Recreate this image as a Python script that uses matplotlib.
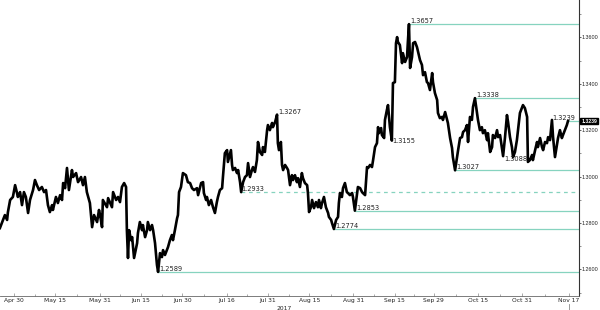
import matplotlib
matplotlib.use("Agg")
import matplotlib.pyplot as plt
import matplotlib.transforms as mtransforms
import numpy as np

# ---- data (days since Apr 30 2017, price) ----
days = [-5.1, -4.0, -3.3, -2.5, -2.2, -1.4, -0.4, 0.4, 1.1, 1.4, 2.2, 2.9, 3.6, 4.3, 5.1, 5.8, 6.9, 7.6, 8.3, 9.1,
        10.1, 10.9, 11.6, 12.3, 13.0, 13.8, 14.1, 15.2, 15.9, 16.7, 17.4, 17.8, 18.5, 19.2, 19.9, 21.0, 21.4, 22.5, 23.2, 24.3,
        25.0, 25.7, 26.4, 27.5, 28.3, 29.0, 30.1, 30.8, 31.2, 31.9, 32.2, 33.7, 34.1, 35.5, 35.9, 37.0, 37.7, 38.4, 39.1, 39.9,
        40.6, 40.9, 41.3, 41.7, 42.4, 42.8, 43.5, 44.6, 44.9, 45.6, 46.4, 46.7, 47.5, 48.2, 48.5, 49.3, 50.0, 50.4, 51.1, 51.8,
        52.2, 52.9, 53.6, 54.0, 54.7, 55.8, 56.5, 57.2, 57.6, 58.3, 59.1, 59.4, 59.8, 60.5, 61.2, 62.3, 63.0, 63.8, 64.5, 65.2,
        66.3, 66.7, 67.8, 68.5, 68.8, 69.6, 69.9, 70.6, 71.4, 72.1, 72.8, 73.5, 73.9, 74.6, 75.4, 75.7, 76.4, 77.2, 77.5, 78.6,
        79.0, 79.3, 80.1, 80.8, 81.2, 81.9, 82.3, 83.0, 83.7, 84.4, 84.8, 85.5, 86.2, 86.6, 87.3, 88.0, 88.4, 89.1, 89.9, 90.2,
        90.9, 91.7, 92.0, 92.7, 93.5, 93.8, 94.6, 95.3, 95.6, 96.0, 96.7, 97.1, 97.5, 98.2, 98.9, 99.3, 100.0, 100.7, 101.1, 101.8,
        102.5, 102.9, 103.6, 104.3, 104.7, 105.4, 106.2, 106.5, 106.9, 107.6, 108.0, 108.7, 109.4, 110.1, 110.5, 111.2, 111.6, 112.3, 113.0, 113.8,
        114.1, 114.9, 115.2, 115.9, 116.7, 117.4, 117.7, 118.1, 118.8, 119.2, 119.9, 120.6, 121.0, 121.7, 122.5, 122.8, 123.5, 124.3, 124.6, 125.4,
        126.1, 126.4, 127.2, 127.9, 128.3, 129.0, 129.7, 130.1, 130.8, 131.5, 131.9, 132.2, 133.0, 133.3, 134.1, 134.4, 135.1, 135.5, 136.2, 136.9,
        137.3, 138.0, 138.4, 138.8, 139.1, 139.8, 140.6, 140.9, 141.7, 142.4, 142.7, 143.1, 143.5, 144.2, 144.6, 145.3, 146.0, 146.4, 147.1, 147.8,
        148.2, 148.9, 149.6, 150.0, 150.7, 151.5, 151.8, 152.5, 153.3, 153.6, 154.3, 155.1, 155.4, 156.2, 156.9, 157.2, 158.0, 158.7, 159.0, 159.8,
        160.5, 160.9, 161.6, 162.3, 162.7, 163.4, 164.1, 164.5, 165.2, 165.9, 166.3, 167.0, 167.7, 168.1, 168.8, 169.5, 169.9, 170.6, 171.4, 171.7,
        172.5, 173.2, 173.5, 174.3, 175.0, 175.4, 176.1, 176.8, 177.2, 177.9, 178.6, 179.0, 179.7, 180.4, 180.8, 181.5, 182.2, 182.6, 183.3, 184.0,
        184.4, 185.1, 185.9, 186.2, 186.9, 187.7, 188.0, 188.8, 189.5, 189.8, 190.6, 191.3, 191.7, 192.4, 193.1, 193.5, 194.2, 194.9, 195.3, 196.0,
        196.7, 197.1, 197.8, 198.5, 198.9, 199.6, 200.3, 200.7]
prices = [1.2778, 1.2813, 1.2834, 1.2813, 1.2847, 1.2899, 1.2912, 1.2963, 1.2929, 1.2912, 1.2933, 1.2877, 1.2933, 1.2912, 1.2843, 1.2899, 1.2942, 1.2985, 1.2963, 1.2942,
          1.2955, 1.2933, 1.2942, 1.2877, 1.2847, 1.2877, 1.2856, 1.2912, 1.2886, 1.2920, 1.2899, 1.2972, 1.2950, 1.3037, 1.2942, 1.3028, 1.2998, 1.3015, 1.2976, 1.2998,
          1.2963, 1.2998, 1.2933, 1.2886, 1.2782, 1.2834, 1.2804, 1.2856, 1.2834, 1.2782, 1.2899, 1.2868, 1.2907, 1.2868, 1.2933, 1.2899, 1.2912, 1.2890, 1.2955, 1.2972,
          1.2955, 1.2769, 1.2649, 1.2769, 1.2726, 1.2739, 1.2649, 1.2713, 1.2756, 1.2804, 1.2769, 1.2791, 1.2739, 1.2769, 1.2804, 1.2769, 1.2791, 1.2769, 1.2713, 1.2619,
          1.2589, 1.2670, 1.2653, 1.2683, 1.2662, 1.2696, 1.2726, 1.2748, 1.2726, 1.2769, 1.2821, 1.2834, 1.2933, 1.2955, 1.3015, 1.3006, 1.2976, 1.2972, 1.2950, 1.2942,
          1.2950, 1.2920, 1.2972, 1.2976, 1.2929, 1.2899, 1.2912, 1.2877, 1.2899, 1.2868, 1.2843, 1.2890, 1.2912, 1.2942, 1.2950, 1.2998, 1.3101, 1.3114, 1.3063, 1.3114,
          1.3050, 1.3028, 1.3037, 1.3015, 1.3028, 1.2976, 1.2933, 1.2976, 1.2998, 1.3006, 1.3058, 1.2998, 1.3028, 1.3041, 1.3020, 1.3071, 1.3149, 1.3106, 1.3093, 1.3127,
          1.3106, 1.3200, 1.3222, 1.3200, 1.3231, 1.3213, 1.3235, 1.3267, 1.3144, 1.3114, 1.3149, 1.3050, 1.3028, 1.3050, 1.3037, 1.3028, 1.2963, 1.3006, 1.2985, 1.3006,
          1.2976, 1.2993, 1.2955, 1.3015, 1.2993, 1.2972, 1.2963, 1.2929, 1.2847, 1.2868, 1.2899, 1.2864, 1.2890, 1.2868, 1.2899, 1.2864, 1.2886, 1.2912, 1.2868, 1.2843,
          1.2826, 1.2813, 1.2800, 1.2774, 1.2813, 1.2826, 1.2886, 1.2929, 1.2912, 1.2950, 1.2972, 1.2933, 1.2929, 1.2920, 1.2929, 1.2912, 1.2853, 1.2929, 1.2955, 1.2950,
          1.2933, 1.2929, 1.2920, 1.3041, 1.3037, 1.3050, 1.3041, 1.3071, 1.3127, 1.3144, 1.3213, 1.3187, 1.3209, 1.3179, 1.3166, 1.3244, 1.3287, 1.3308, 1.3213, 1.3155,
          1.3403, 1.3407, 1.3575, 1.3601, 1.3580, 1.3567, 1.3489, 1.3532, 1.3494, 1.3515, 1.3580, 1.3657, 1.3468, 1.3515, 1.3575, 1.3580, 1.3558, 1.3537, 1.3502, 1.3481,
          1.3437, 1.3450, 1.3407, 1.3403, 1.3373, 1.3446, 1.3407, 1.3360, 1.3330, 1.3274, 1.3252, 1.3257, 1.3244, 1.3278, 1.3244, 1.3231, 1.3166, 1.3123, 1.3084, 1.3027,
          1.3084, 1.3114, 1.3166, 1.3170, 1.3192, 1.3200, 1.3222, 1.3149, 1.3257, 1.3244, 1.3300, 1.3338, 1.3278, 1.3244, 1.3200, 1.3213, 1.3187, 1.3200, 1.3157, 1.3187,
          1.3106, 1.3127, 1.3179, 1.3166, 1.3200, 1.3170, 1.3179, 1.3123, 1.3088, 1.3170, 1.3265, 1.3235, 1.3170, 1.3127, 1.3084, 1.3106, 1.3157, 1.3200, 1.3274, 1.3295,
          1.3308, 1.3295, 1.3257, 1.3063, 1.3071, 1.3093, 1.3071, 1.3114, 1.3149, 1.3127, 1.3166, 1.3127, 1.3114, 1.3149, 1.3144, 1.3170, 1.3157, 1.3244, 1.3170, 1.3084,
          1.3136, 1.3166, 1.3200, 1.3166, 1.3179, 1.3200, 1.3222, 1.3239]

# support / resistance levels drawn as horizontal lines from their pivot
levels = [1.3657, 1.3338, 1.3239, 1.3027, 1.2933, 1.2853, 1.2774, 1.2589]
level_start = [143.1, 167.0, 200.7, 159.8, 82.3, 123.5, 115.9, 52.2]
level_dashed = [False, False, False, False, True, False, False, False]
level_label_dx = [0.4, 0.4, -5.8, 0.4, 0.2, 0.4, 0.4, 0.4]

# pivot labels without lines
pivot_vals = [1.3267, 1.3155, 1.3088]
pivot_days = [95.3, 136.9, 177.2]
pivot_va = ["baseline", "center", "top"]

tick_days = [0, 15, 31, 46, 61, 77, 92, 107, 123, 138, 152, 168, 184, 201]
tick_labels = ["Apr 30", "May 15", "May 31", "Jun 15", "Jun 30", "Jul 16", "Jul 31",
               "Aug 15", "Aug 31", "Sep 15", "Sep 29", "Oct 15", "Oct 31", "Nov 17"]
y_ticks = [1.26, 1.28, 1.30, 1.32, 1.34, 1.36]
last_price = 1.3239

LINE_C = "#86d3bf"
TXT_C = "#222222"
NARROW = "Liberation Sans"

fig = plt.figure(figsize=(6.0, 3.1), dpi=100)
ax = fig.add_axes([0.0, 0.045, 0.965, 0.955])

ax.plot(days, prices, color="black", lw=1.9, solid_joinstyle="round")

xmax = 204.7
for lv, st, ds, dx in zip(levels, level_start, level_dashed, level_label_dx):
    ax.hlines(lv, st, xmax, colors=LINE_C, lw=0.9, linestyles=(0, (3, 3)) if ds else "solid", zorder=1)
    ax.annotate(f"{lv:.4f}", xy=(st + dx, lv), xytext=(0, 0.8), textcoords="offset points",
                fontsize=4.8, color=TXT_C, va="baseline", ha="left")

for pv, pd_, va in zip(pivot_vals, pivot_days, pivot_va):
    ax.annotate(f"{pv:.4f}", xy=(pd_ + 0.3, pv), xytext=(0, 0.8 if va == "baseline" else 0),
                textcoords="offset points", fontsize=4.8, color=TXT_C, va=va, ha="left")

ax.set_xlim(-5.07, xmax)
ax.set_ylim(1.2485, 1.3761)

# y axis on right
ax.yaxis.tick_right()
ax.set_yticks(y_ticks)
ax.set_yticklabels([f"{v:.4f}" for v in y_ticks], fontfamily=NARROW)
ax.set_yticks([1.25, 1.27, 1.29, 1.31, 1.33, 1.35, 1.37], minor=True)
ax.tick_params(axis="y", which="major", direction="out", length=1.5, width=0.6, pad=0.6,
               labelsize=3.9, colors="#444444", labelcolor=TXT_C)
ax.tick_params(axis="y", which="minor", direction="out", length=1.2, width=0.5, colors="#666666")

ax.set_xticks(tick_days)
ax.set_xticklabels(tick_labels)
ax.set_xticks([(a + b) / 2 for a, b in zip(tick_days[:-1], tick_days[1:])], minor=True)
ax.tick_params(axis="x", which="major", direction="in", length=2, width=0.5, pad=1.5,
               labelsize=4.3, colors="#888888", labelcolor=TXT_C)
ax.tick_params(axis="x", which="minor", direction="in", length=1.5, width=0.5, colors="#888888")

for s in ["top", "left"]:
    ax.spines[s].set_visible(False)
ax.spines["right"].set_color("#333333")
ax.spines["right"].set_linewidth(0.8)
ax.spines["bottom"].set_color("#666666")
ax.spines["bottom"].set_linewidth(0.6)

trans = mtransforms.blended_transform_factory(ax.transData, ax.transAxes)
ax.text(97.8, -0.033, "2017", transform=trans, fontsize=4.3, color=TXT_C, ha="center", va="top")
ax.plot([201, 201], [-0.027, -0.06], transform=trans, color="#888888", lw=0.6, clip_on=False)

# last price box
ax.annotate(f"{last_price:.4f}", xy=(1.0, last_price), xycoords=("axes fraction", "data"),
            xytext=(1.6, 0), textcoords="offset points", fontsize=3.7, color="white",
            va="center", ha="left", fontweight="bold", fontfamily=NARROW,
            bbox=dict(boxstyle="square,pad=0.15", fc="black", ec="black"))

fig.savefig("out.png", dpi=100, facecolor="white")
